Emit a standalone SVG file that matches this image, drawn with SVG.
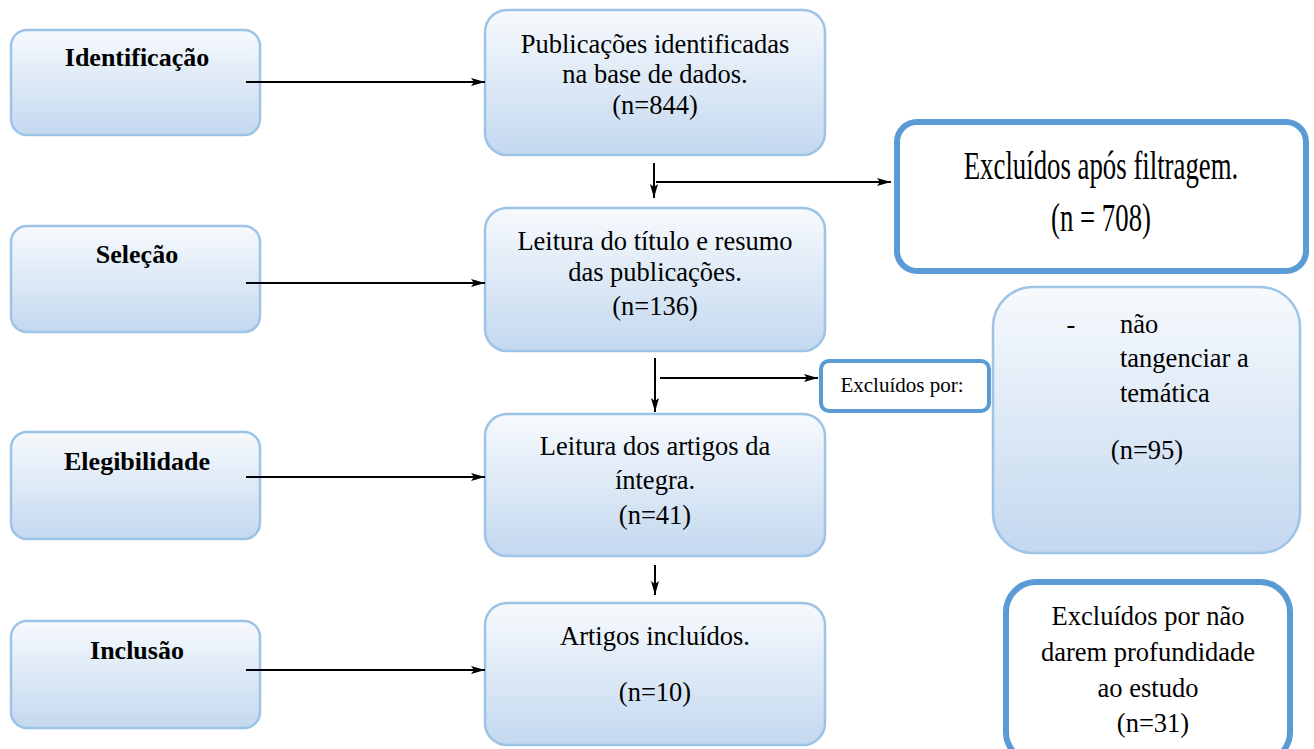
<svg xmlns="http://www.w3.org/2000/svg" width="1314" height="749" viewBox="0 0 1314 749">
<defs>
<linearGradient id="g" x1="0" y1="0" x2="0" y2="1">
<stop offset="0" stop-color="#f7fafd"/>
<stop offset="1" stop-color="#c3d8ef"/>
</linearGradient>
<marker id="ah" markerWidth="14" markerHeight="8" refX="14" refY="4" orient="auto" markerUnits="userSpaceOnUse">
<path d="M0,0 L14,4 L0,8 L3,4 z" fill="#000"/>
</marker>
<style>
.box{fill:url(#g);stroke:#9dc3e6;stroke-width:2.5}
.obox{fill:#fff;stroke:#5b9bd5}
.lbl{font-family:'Liberation Serif','Times New Roman',serif;fill:#000;text-anchor:middle;font-size:26.5px}
.bold{font-weight:bold;font-size:26px}
.big{font-size:40px}
.small{font-size:21px}
.left{text-anchor:start}
.c{stroke:#000;stroke-width:2;fill:none;marker-end:url(#ah)}
</style>
</defs>
<g id="n-identificacao"><rect class="box" x="11" y="30" width="249" height="105" rx="16"/><text class="lbl bold" x="137" y="66">Identificação</text></g>
<g id="n-selecao"><rect class="box" x="11" y="226" width="249" height="106" rx="16"/><text class="lbl bold" x="137" y="263">Seleção</text></g>
<g id="n-elegibilidade"><rect class="box" x="11" y="432" width="249" height="107" rx="16"/><text class="lbl bold" x="137" y="470">Elegibilidade</text></g>
<g id="n-inclusao"><rect class="box" x="11" y="621" width="249" height="107" rx="16"/><text class="lbl bold" x="137" y="659">Inclusão</text></g>

<g id="n-publicacoes"><rect class="box" x="485" y="10" width="340" height="145" rx="22"/>
<text class="lbl" x="655" y="53">Publicações identificadas</text><text class="lbl" x="655" y="83">na base de dados.</text><text class="lbl" x="655" y="114">(n=844)</text></g>
<g id="n-leitura-titulo"><rect class="box" x="485" y="208" width="340" height="143" rx="22"/>
<text class="lbl" x="655" y="250">Leitura do título e resumo</text><text class="lbl" x="655" y="281">das publicações.</text><text class="lbl" x="655" y="315">(n=136)</text></g>
<g id="n-leitura-artigos"><rect class="box" x="485" y="414" width="340" height="142" rx="22"/>
<text class="lbl" x="655" y="455">Leitura dos artigos da</text><text class="lbl" x="655" y="489">íntegra.</text><text class="lbl" x="655" y="524">(n=41)</text></g>
<g id="n-incluidos"><rect class="box" x="485" y="603" width="340" height="142" rx="22"/>
<text class="lbl" x="655" y="645">Artigos incluídos.</text><text class="lbl" x="655" y="701">(n=10)</text></g>

<g id="n-excluidos-filtragem"><rect class="obox" x="897" y="122" width="409" height="149" rx="20" stroke-width="6"/>
<g transform="translate(1101 0) scale(0.67 1)">
<text class="lbl big" x="0" y="179">Excluídos após filtragem.</text>
<text class="lbl big" x="0" y="231">(n = 708)</text></g></g>
<g id="n-excluidos-por"><rect class="obox" x="821" y="361" width="168" height="50" rx="8" stroke-width="4"/>
<text class="lbl small" x="902" y="392">Excluídos por:</text></g>
<g id="n-tematica"><rect class="box" x="993" y="287" width="307" height="266" rx="40"/>
<text class="lbl" x="1071" y="333">-</text>
<text class="lbl left" x="1120" y="333">não</text>
<text class="lbl left" x="1120" y="367">tangenciar a</text>
<text class="lbl left" x="1120" y="402">temática</text>
<text class="lbl" x="1147" y="459">(n=95)</text></g>
<g id="n-profundidade"><rect class="obox" x="1006" y="582" width="284" height="180" rx="30" stroke-width="6"/>
<text class="lbl" x="1148" y="625">Excluídos por não</text><text class="lbl" x="1148" y="661">darem profundidade</text><text class="lbl" x="1148" y="697">ao estudo</text><text class="lbl" x="1153" y="732">(n=31)</text></g>

<g id="connectors">
<line class="c" x1="246" y1="82" x2="485" y2="82"/>
<line class="c" x1="246" y1="283" x2="485" y2="283"/>
<line class="c" x1="246" y1="477" x2="485" y2="477"/>
<line class="c" x1="246" y1="670" x2="485" y2="670"/>
<line class="c" x1="654" y1="163" x2="654" y2="198"/>
<line class="c" x1="656" y1="182" x2="891" y2="182"/>
<line class="c" x1="655" y1="358" x2="655" y2="412"/>
<line class="c" x1="660" y1="378" x2="818" y2="378"/>
<line class="c" x1="655" y1="565" x2="655" y2="595"/>
</g>
</svg>
